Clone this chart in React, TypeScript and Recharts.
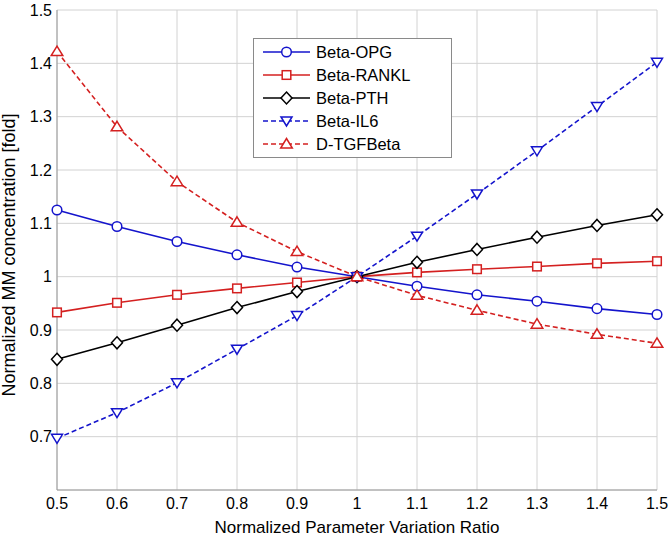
import { LineChart, Line, XAxis, YAxis, CartesianGrid, Legend } from 'recharts';

const ratio = [0.5, 0.6, 0.7, 0.8, 0.9, 1.0, 1.1, 1.2, 1.3, 1.4, 1.5];
const betaOPG = [1.125, 1.094, 1.066, 1.041, 1.018, 1.0, 0.982, 0.966, 0.954, 0.94, 0.929];
const betaRANKL = [0.933, 0.951, 0.966, 0.978, 0.989, 1.0, 1.008, 1.014, 1.019, 1.025, 1.029];
const betaPTH = [0.845, 0.876, 0.909, 0.942, 0.972, 1.0, 1.027, 1.051, 1.074, 1.096, 1.116];
const betaIL6 = [0.697, 0.745, 0.801, 0.864, 0.927, 1.0, 1.076, 1.155, 1.236, 1.319, 1.402];
const dTGFBeta = [1.422, 1.281, 1.178, 1.102, 1.047, 1.0, 0.965, 0.937, 0.911, 0.892, 0.875];

const xTicks = [0.5, 0.6, 0.7, 0.8, 0.9, 1, 1.1, 1.2, 1.3, 1.4, 1.5];
const yTicks = [0.7, 0.8, 0.9, 1, 1.1, 1.2, 1.3, 1.4, 1.5];

const data = ratio.map((r, i) => ({
  ratio: r,
  opg: betaOPG[i],
  rankl: betaRANKL[i],
  pth: betaPTH[i],
  il6: betaIL6[i],
  tgf: dTGFBeta[i],
}));

type Shape = 'circle' | 'square' | 'diamond' | 'tdown' | 'tup';

const BLUE = '#1414cc';
const RED = '#d42020';

const series: { key: string; name: string; color: string; dash?: string; shape: Shape }[] = [
  { key: 'opg', name: 'Beta-OPG', color: BLUE, shape: 'circle' },
  { key: 'rankl', name: 'Beta-RANKL', color: RED, shape: 'square' },
  { key: 'pth', name: 'Beta-PTH', color: '#000000', shape: 'diamond' },
  { key: 'il6', name: 'Beta-IL6', color: BLUE, dash: '5 3', shape: 'tdown' },
  { key: 'tgf', name: 'D-TGFBeta', color: RED, dash: '5 3', shape: 'tup' },
];

const FONT = '"Liberation Sans", Arial, sans-serif';

function Marker({ cx, cy, shape, color }: { cx: number; cy: number; shape: Shape; color: string }) {
  const common = { fill: '#fff', stroke: color, strokeWidth: 1.5 };
  if (cx == null || cy == null) return null;
  switch (shape) {
    case 'circle':
      return <circle cx={cx} cy={cy} r={4.8} {...common} />;
    case 'square':
      return <rect x={cx - 4.3} y={cy - 4.3} width={8.6} height={8.6} {...common} />;
    case 'diamond':
      return <polygon points={`${cx},${cy - 6} ${cx + 5.5},${cy} ${cx},${cy + 6} ${cx - 5.5},${cy}`} {...common} />;
    case 'tdown':
      return <polygon points={`${cx - 5.5},${cy - 4} ${cx + 5.5},${cy - 4} ${cx},${cy + 5}`} {...common} />;
    case 'tup':
      return <polygon points={`${cx},${cy - 5.5} ${cx + 5.8},${cy + 4} ${cx - 5.8},${cy + 4}`} {...common} />;
  }
  return null;
}

function LegendBox() {
  return (
    <svg width={199} height={120} style={{ display: 'block' }}>
      <rect x={0.5} y={0.5} width={198} height={119} fill="#fff" stroke="#8a8a8a" />
      {series.map((s, i) => {
        const y = 14 + i * 23;
        return (
          <g key={s.key}>
            <line x1={10} x2={57} y1={y} y2={y} stroke={s.color} strokeWidth={1.6} strokeDasharray={s.dash} />
            <Marker cx={33.5} cy={y} shape={s.shape} color={s.color} />
            <text x={63} y={y + 6} fontSize={16.5} fontFamily={FONT} fill="#000">
              {s.name}
            </text>
          </g>
        );
      })}
    </svg>
  );
}

export default function App() {
  return (
    <div>
      <style>{`body{margin:0;background:#fff}`}</style>
      <LineChart width={670} height={537} data={data} margin={{ top: 10, right: 13, left: 0, bottom: 0 }}>
        <CartesianGrid stroke="#d2d2d2" strokeWidth={1} />
        <XAxis
          dataKey="ratio"
          type="number"
          domain={[0.5, 1.5]}
          ticks={xTicks}
          height={47}
          stroke="#9a9a9a"
          tickSize={0}
          tickMargin={8}
          tick={{ fontSize: 16, fill: '#000', fontFamily: FONT }}
          label={{
            value: 'Normalized Parameter Variation Ratio',
            position: 'insideBottom',
            offset: 4,
            style: { fontSize: 17, fill: '#000', fontFamily: FONT },
          }}
        />
        <YAxis
          type="number"
          domain={[0.6, 1.5]}
          ticks={yTicks}
          width={57}
          stroke="#9a9a9a"
          tickSize={0}
          tickMargin={5}
          allowDataOverflow
          tick={{ fontSize: 16, fill: '#000', fontFamily: FONT }}
          label={{
            content: () => (
              <text
                transform="translate(15,255) rotate(-90)"
                textAnchor="middle"
                fontSize={18}
                fontFamily={FONT}
                fill="#000"
              >
                Normalized MM concentration [fold]
              </text>
            ),
          }}
        />
        <Legend
          verticalAlign="middle"
          layout="horizontal"
          content={() => <LegendBox />}
          wrapperStyle={{ left: 253, top: 38, width: 199, height: 120 }}
        />
        {series.map((s) => (
          <Line
            key={s.key}
            dataKey={s.key}
            name={s.name}
            stroke={s.color}
            strokeWidth={1.6}
            strokeDasharray={s.dash}
            isAnimationActive={false}
            dot={(p: any) => <Marker key={`${s.key}-${p.index}`} cx={p.cx} cy={p.cy} shape={s.shape} color={s.color} />}
            activeDot={false}
          />
        ))}
      </LineChart>
    </div>
  );
}
